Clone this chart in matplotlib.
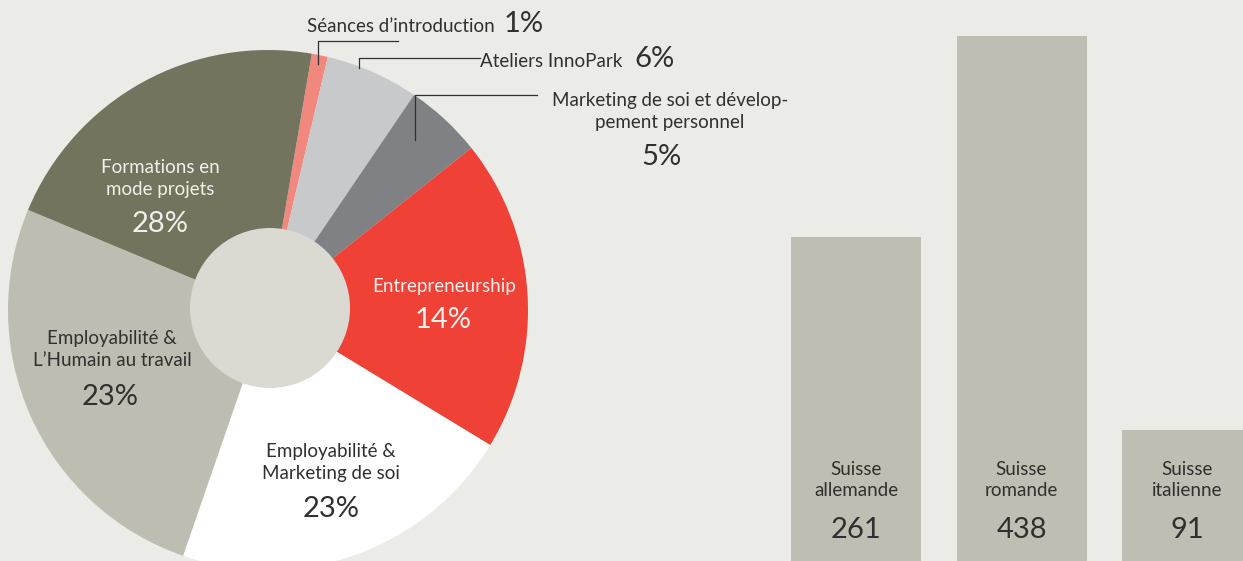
import matplotlib
matplotlib.use('Agg')
import matplotlib.pyplot as plt
import matplotlib.transforms as mtransforms
from matplotlib.patches import Circle

# --- data ---------------------------------------------------------------
# pie: slices in clockwise order starting near the top
slice_names = ['Séances d’introduction', 'Ateliers InnoPark',
               'Marketing de soi et dévelop-\npement personnel',
               'Entrepreneurship', 'Employabilité &\nMarketing de soi',
               'Employabilité &\nL’Humain au travail',
               'Formations en\nmode projets']
# angular share as drawn in the picture (%)
slice_share = [1.0, 5.8, 4.8, 19.4, 21.6, 26.0, 21.4]
# percentages as printed on the picture
pct_text = ['1%', '6%', '5%', '14%', '23%', '23%', '28%']
slice_colors = ['#F0887E', '#C8C9CA', '#808184', '#EF4136', '#FFFFFF',
                '#BDBDB1', '#72745E']

# bars
regions = ['Suisse\nallemande', 'Suisse\nromande', 'Suisse\nitalienne']
participants = [261, 438, 91]

BG = '#EBEBE7'
DARK = '#303030'
LIGHT = '#F0F0EC'
FONT = ['Lato', 'DejaVu Sans']
SIZE = 13.5
PCT = 21

W, H = 1243, 561
fig = plt.figure(figsize=(W / 100, H / 100), dpi=100)
fig.patch.set_facecolor(BG)

# base axes in pixel coordinates (y measured from the bottom)
ax = fig.add_axes([0, 0, 1, 1])
ax.set_facecolor(BG)

def Y(y_px):
    return H - y_px

ax.pie(slice_share, colors=slice_colors, startangle=80.3,
       counterclock=False, radius=260, center=(268, Y(310)),
       wedgeprops=dict(linewidth=0))
ax.add_patch(Circle((270, Y(308)), 80, facecolor='#DADAD3',
                    edgecolor='none', zorder=3))
ax.set_xlim(0, W)
ax.set_ylim(0, H)
ax.set_aspect('auto')
ax.axis('off')


def label(x, y_base, lines, color, size=SIZE, step=21.5, ha='center'):
    # draw each line on its own baseline
    for i, ln in enumerate(lines.split('\n')):
        ax.text(x, Y(y_base + i * step), ln, ha=ha, va='baseline',
                color=color, fontsize=size, family=FONT, zorder=5)


# labels inside the ring
label(160, 173, slice_names[6], LIGHT)
label(160, 232, pct_text[6], LIGHT, size=PCT)
label(112, 344, slice_names[5], DARK)
label(110, 405, pct_text[5], DARK, size=PCT)
label(444, 292, slice_names[3], LIGHT)
label(443, 328, pct_text[3], LIGHT, size=PCT)
label(331, 457, slice_names[4], DARK)
label(331, 517, pct_text[4], DARK, size=PCT)

# small slices with leader lines
label(495, 32, slice_names[0], DARK, ha='right')
label(504, 32, pct_text[0], DARK, size=PCT, ha='left')
label(622, 67, slice_names[1], DARK, ha='right')
label(634, 67, pct_text[1], DARK, size=PCT, ha='left')
label(670, 106, slice_names[2], DARK)
label(661, 165, pct_text[2], DARK, size=PCT)

lw = 0.9
ax.plot([318, 318, 398], [Y(64), Y(41), Y(41)], color=DARK, lw=lw, zorder=4)
ax.plot([359, 359, 480], [Y(68), Y(58), Y(58)], color=DARK, lw=lw, zorder=4)
ax.plot([415, 415, 537], [Y(140), Y(95), Y(95)], color=DARK, lw=lw, zorder=4)

# --- bars -----------------------------------------------------------------
axb = fig.add_axes([791 / W, 0, (W - 791) / W, 1])
axb.patch.set_alpha(0)
pitch = 165.5
y_lo, y_hi = -24.9, 469.6
axb.bar(range(len(participants)), [v - y_lo for v in participants],
        bottom=y_lo, width=130 / pitch, align='edge', color='#BEBEB2',
        linewidth=0)
axb.set_xlim(0, (W - 791) / pitch)
axb.set_ylim(y_lo, y_hi)
axb.axis('off')

tr = mtransforms.blended_transform_factory(axb.transData, axb.transAxes)
for i, (name, v) in enumerate(zip(regions, participants)):
    xc = i + 65 / pitch
    for j, ln in enumerate(name.split('\n')):
        axb.text(xc, 1 - (475 + j * 21.5) / H, ln, transform=tr,
                 ha='center', va='baseline', color=DARK, fontsize=SIZE,
                 family=FONT)
    axb.text(xc, 1 - 538 / H, str(v), transform=tr, ha='center',
             va='baseline', color=DARK, fontsize=PCT, family=FONT)

fig.savefig('out.png', dpi=100, facecolor=BG)
